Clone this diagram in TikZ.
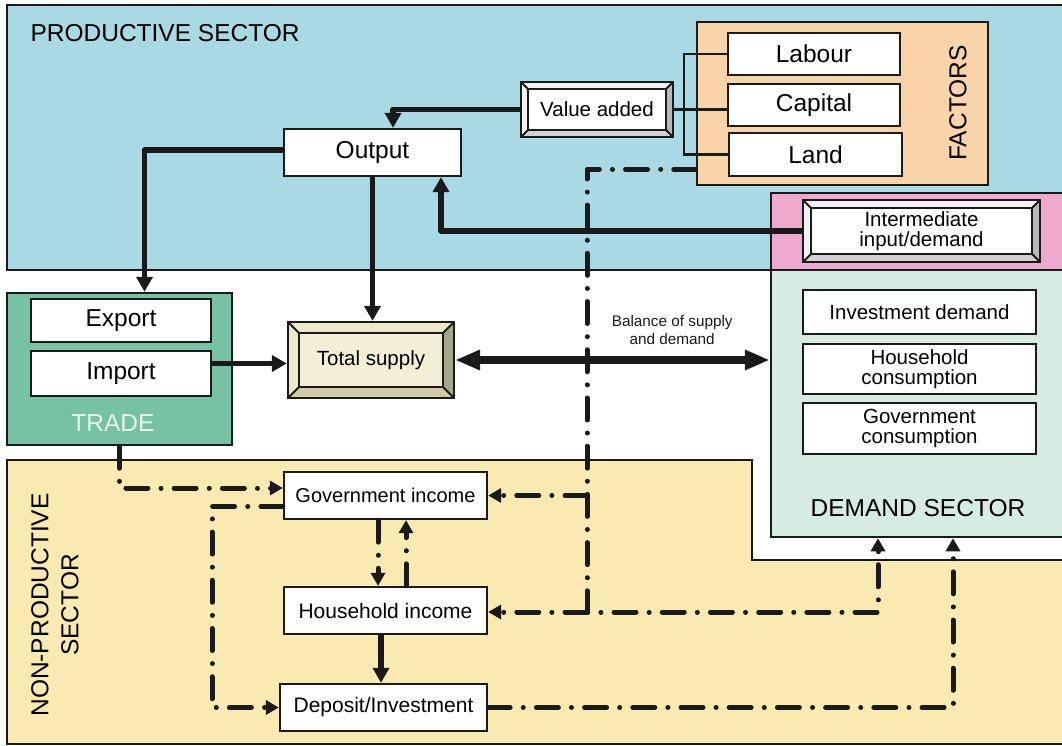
\documentclass[tikz,border=0pt]{standalone}
\usepackage{fontspec}
\setmainfont{Liberation Sans}
\usetikzlibrary{arrows.meta,calc}

\definecolor{prodblue}{HTML}{A9D9E3}
\definecolor{factorange}{HTML}{F9D4A9}
\definecolor{interpink}{HTML}{EFA9CC}
\definecolor{demgreen}{HTML}{D6ECE3}
\definecolor{tradegreen}{HTML}{77C2A4}
\definecolor{tradetext}{HTML}{E6F6EE}
\definecolor{nonyellow}{HTML}{F8EAB0}
\definecolor{supplybeige}{HTML}{F5EED6}
\definecolor{supplylight}{HTML}{EEE8CB}
\definecolor{supplydark}{HTML}{A7A68A}
\definecolor{supplymid}{HTML}{CFCBA9}
\definecolor{linecol}{HTML}{1A1A1A}

\tikzset{
	region/.style={draw=linecol, line width=2.5pt},
	box/.style={draw=linecol, line width=2.3pt, fill=white, inner sep=0pt, align=center},
	bevelbox/.style n args={5}{draw=linecol, line width=2.3pt, fill=#1, inner sep=0pt, align=center,
		path picture={
			\coordinate (pA) at (path picture bounding box.north west);
			\coordinate (pB) at (path picture bounding box.south east);
			\coordinate (pC) at (pA -| pB);
			\coordinate (pD) at (pA |- pB);
			\coordinate (iA) at ($(pA)+(#5,-#5)$);
			\coordinate (iB) at ($(pB)+(-#5,#5)$);
			\coordinate (iC) at ($(pC)+(-#5,-#5)$);
			\coordinate (iD) at ($(pD)+(#5,#5)$);
			\fill[#2] (pA) -- (pC) -- (iC) -- (iA) -- (iD) -- (pD) -- cycle;
			\fill[#3] (pC) -- (pB) -- (iB) -- (iC) -- cycle;
			\fill[#4] (pD) -- (iD) -- (iB) -- (pB) -- cycle;
			\draw[linecol, line width=1.8pt] (iA) rectangle (iB)
				(pA) -- (iA) (pC) -- (iC) (pB) -- (iB) (pD) -- (iD);
		}},
	bigtext/.style={font=\fontsize{24.5}{30}\selectfont},
	midtext/.style={font=\fontsize{20.5}{20}\selectfont},
	smalltext/.style={font=\fontsize{15.3}{18}\selectfont},
	flowarrow/.style={draw=linecol, line width=5.5pt, line join=round, -{Triangle[length=15pt,width=16pt]}},
	ddline/.style={draw=linecol, line width=5pt, line cap=round, line join=round,
		dash pattern=on 22pt off 13.1pt on 0.01pt off 13.1pt},
	ddtip/.style={-{Triangle[length=13pt,width=14pt]}},
	thinline/.style={draw=linecol, line width=2.2pt},
}

\begin{document}
\begin{tikzpicture}[x=1pt, y=-1pt]
	\useasboundingbox (0,0) rectangle (1062,746);
	\fill[white] (0,0) rectangle (1062,746);

	% productive sector
	\draw[region, fill=prodblue] (7,5) rectangle (1070,270);
	\node[bigtext, anchor=west] (prodl) at (27,33) {PRODUCTIVE SECTOR};

	% non-productive sector
	\draw[region, fill=nonyellow] (7,460) -- (752,460) -- (752,560) -- (1070,560) -- (1070,744) -- (7,744) -- cycle;
	\node[bigtext, rotate=90, align=center] (nonl) at (55,605) {NON-PRODUCTIVE\\SECTOR};

	% demand sector
	\draw[region, fill=interpink] (771,193) rectangle (1066,270);
	\node[region, fill=demgreen, minimum width=295pt, minimum height=267pt] (dem) at (918.5,403.5) {};
	\node[box, midtext, minimum width=233pt, minimum height=44pt] (inv) at (919.5,312) {Investment demand};
	\node[box, midtext, minimum width=233pt, minimum height=50pt] (hcons) at (919.5,369) {Household\\consumption};
	\node[box, midtext, minimum width=233pt, minimum height=51pt] (gcons) at (919.5,428.5) {Government\\consumption};
	\node[bigtext] (deml) at (918,508) {DEMAND SECTOR};

	% factors
	\node[region, fill=factorange, minimum width=291pt, minimum height=163pt] (fac) at (842.5,103.5) {};
	\node[bigtext, rotate=90] (facl) at (958,103) {FACTORS};
	\node[box, bigtext, minimum width=172pt, minimum height=42pt] (lab) at (814,54) {Labour};
	\node[box, bigtext, minimum width=172pt, minimum height=42pt] (cap) at (814,105) {Capital};
	\node[box, bigtext, minimum width=173pt, minimum height=43pt] (land) at (815.5,154.5) {Land};

	% value added, output, intermediate
	\node[bevelbox={white}{white!95!black}{black!28}{black!18}{7pt}, midtext, minimum width=152pt, minimum height=55pt] (va) at (597,109.5) {Value added};
	\node[box, bigtext, minimum width=177pt, minimum height=47pt] (out) at (372.5,152.5) {Output};
	\node[bevelbox={white}{white!95!black}{black!28}{black!18}{8pt}, midtext, minimum width=237pt, minimum height=62pt] (inter) at (921.5,231) {Intermediate\\input/demand};

	% trade
	\node[region, fill=tradegreen, minimum width=225pt, minimum height=152pt] (trade) at (119.5,369) {};
	\node[box, bigtext, minimum width=180pt, minimum height=43pt] (exp) at (121,320.5) {Export};
	\node[box, bigtext, minimum width=180pt, minimum height=45pt] (imp) at (121,373.5) {Import};
	\node[bigtext, text=tradetext] (tradel) at (113,423) {TRADE};

	% total supply
	\node[bevelbox={supplybeige}{supplylight}{supplydark}{supplymid}{11pt}, midtext, minimum width=166pt, minimum height=76pt] (ts) at (371,360) {Total supply};

	% incomes
	\node[box, font=\fontsize{20}{20}\selectfont, minimum width=203pt, minimum height=47pt] (gov) at (385.5,495.5) {Government income};
	\node[box, font=\fontsize{21}{21}\selectfont, minimum width=203pt, minimum height=47pt] (hh) at (385.5,610.5) {Household income};
	\node[box, font=\fontsize{21}{21}\selectfont, minimum width=207pt, minimum height=47pt] (dep) at (383.5,707.5) {Deposit/Investment};

	\coordinate (jx) at (587,612);
	\coordinate (jl) at (212,707.5);

	% factor bracket
	\draw[thinline] (va.east) -- (va.east -| cap.west);
	\draw[thinline] (lab.west) -- ++(-43,0) |- (land.west);

	% factor incomes
	\draw[ddline, ddtip] ([yshift=17pt]fac.south west) -| (jx) -| ([xshift=-40.5pt]dem.south);
	\draw[ddline, ddtip] (jx) -- (jx -| hh.east);
	\draw[ddline, ddtip] (jx |- gov.east) -- (gov.east);

	% trade to government
	\draw[ddline, ddtip] (trade.south) |- ([yshift=7.5pt]gov.west);

	% government to deposit
	\draw[ddline, ddtip] ([yshift=-11pt]gov.west) -| (jl) -- (dep.west);

	% transfers
	\draw[ddline, ddtip] ([xshift=-7.5pt]gov.south) -- ([xshift=-7.5pt]gov.south |- hh.north);
	\draw[ddline, ddtip] ([xshift=20.5pt]hh.north) -- ([xshift=20.5pt]hh.north |- gov.south);

	% savings
	\draw[flowarrow] ([xshift=-4.5pt]hh.south) -- ([xshift=-4.5pt]hh.south |- dep.north);
	\draw[ddline, ddtip] (dep.east) -| ([xshift=34.5pt]dem.south);

	% production flows
	\draw[flowarrow] (va.west) -| ([xshift=20.5pt]out.north);
	\draw[flowarrow] ([yshift=2.5pt]out.west) -| ([xshift=25pt]trade.north);
	\draw[flowarrow] (out.south) -- (out.south |- ts.north);
	\draw[flowarrow] (inter.west) -| ([xshift=68.5pt]out.south);
	\draw[flowarrow] ([yshift=10pt]imp.east) -- ([yshift=10pt]imp.east -| ts.west);

	% balance
	\draw[linecol, line width=8pt, {Triangle[length=25pt,width=19pt]}-{Triangle[length=25pt,width=19pt]}] (ts.east) -- (ts.east -| dem.west)
		node[smalltext, pos=0.69, above=11pt, inner sep=0pt, align=center] (bal) {Balance of supply\\and demand};
\end{tikzpicture}
\end{document}
